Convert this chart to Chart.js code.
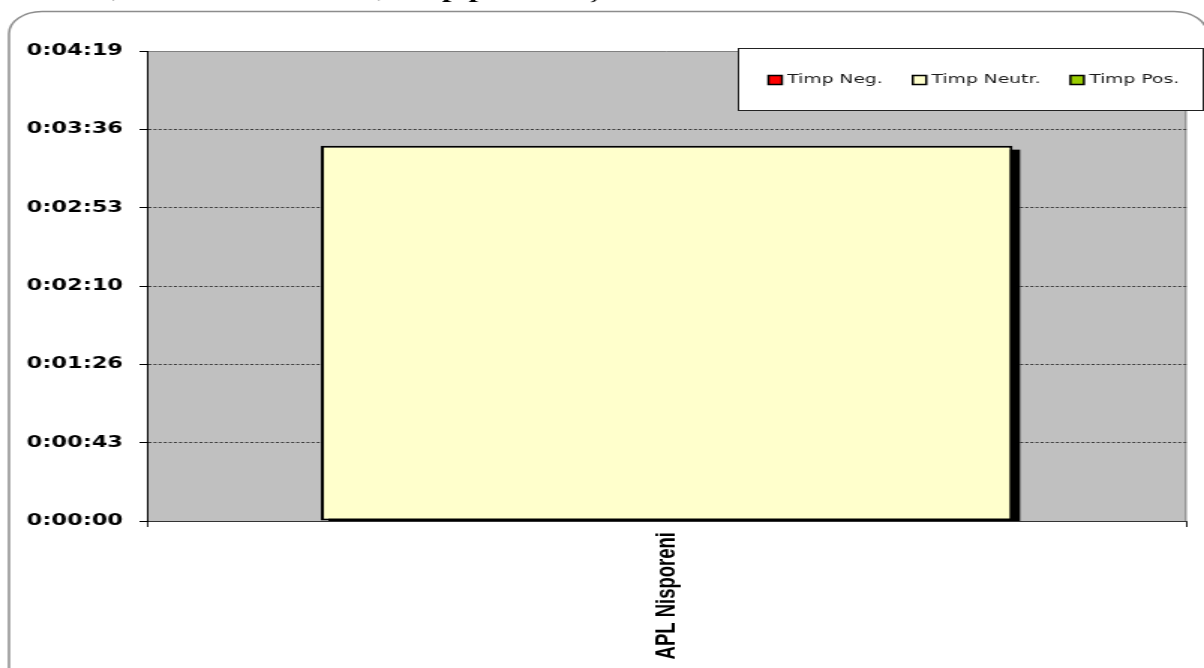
<!DOCTYPE html>
<html>
<head>
<meta charset="utf-8">
<script src="https://cdn.jsdelivr.net/npm/chart.js@4.4.1/dist/chart.umd.min.js"></script>
<style>
  html, body { margin: 0; padding: 0; background: #ffffff; overflow: hidden; width: 1204px; height: 668px; }
  #wrap { position: absolute; left: 0; top: 0; width: 803px; height: 668px; transform: scaleX(1.49938); transform-origin: 0 0; }
</style>
</head>
<body>
<div id="wrap"><canvas id="c"></canvas></div>
<script>
// ---- data ----
const titleText = 'Contul, afirmat în subiect, timp pe toate știrile';
const categories = ['APL Nisporeni'];
const seriesLabels = ['Timp Neg.', 'Timp Neutr.', 'Timp Pos.'];
const timpNeg = [0];
const timpNeutr = [207];   // seconds (≈ 0:03:27)
const timpPos = [0];
const seriesColors = ['#FF0000', '#FFFFCC', '#99CC00'];
const yTickLabels = ['0:00:00', '0:00:43', '0:01:26', '0:02:10', '0:02:53', '0:03:36', '0:04:19'];
const yMax = 259.2;
const yStep = 43.2;

// ---- plugins ----
const framePlugin = {
  id: 'frame',
  beforeDraw(chart) {
    const ctx = chart.ctx, a = chart.chartArea;
    ctx.save();
    // outer rounded frame
    ctx.strokeStyle = '#8c8c8c';
    ctx.lineWidth = 1.5;
    ctx.beginPath();
    ctx.roundRect(6, 11.5, 799, 720, 22);
    ctx.stroke();
    // clipped title above the frame
    ctx.fillStyle = '#000';
    ctx.font = 'bold 22px "Liberation Serif", "Times New Roman", serif';
    ctx.textBaseline = 'alphabetic';
    ctx.textAlign = 'left';
    ctx.fillText(titleText, 10, -3);
    // plot area background
    ctx.fillStyle = '#C0C0C0';
    ctx.fillRect(a.left, a.top, a.right - a.left, a.bottom - a.top);
    // top and right border of plot area
    ctx.strokeStyle = '#808080';
    ctx.lineWidth = 1;
    ctx.beginPath();
    ctx.moveTo(a.left, a.top + 0.5);
    ctx.lineTo(a.right - 0.5, a.top + 0.5);
    ctx.lineTo(a.right - 0.5, a.bottom);
    ctx.stroke();
    ctx.restore();
  }
};

const shadowPlugin = {
  id: 'barShadow',
  beforeDatasetsDraw(chart) {
    const ctx = chart.ctx, a = chart.chartArea;
    const meta = chart.getDatasetMeta(1);
    ctx.save();
    ctx.beginPath();
    ctx.rect(a.left, a.top, a.right - a.left, a.bottom - a.top);
    ctx.clip();
    ctx.fillStyle = '#000';
    meta.data.forEach(el => {
      const p = el.getProps(['x', 'y', 'base', 'width'], true);
      const top = Math.min(p.y, p.base), bottom = Math.max(p.y, p.base);
      ctx.fillRect(p.x - p.width / 2 + 5, top + 4, p.width, bottom - top);
    });
    ctx.restore();
  }
};

const legendPlugin = {
  id: 'boxLegend',
  afterDraw(chart) {
    const ctx = chart.ctx;
    ctx.save();
    const bx = 492.5, by = 48.5, bw = 310, bh = 62;
    ctx.fillStyle = '#fff';
    ctx.fillRect(bx, by, bw, bh);
    ctx.strokeStyle = '#222';
    ctx.lineWidth = 1;
    ctx.strokeRect(bx, by, bw, bh);
    ctx.font = '12.5px "DejaVu Sans", Verdana, sans-serif';
    ctx.textBaseline = 'middle';
    ctx.textAlign = 'left';
    let x = 512.5;
    const cy = 80;
    chart.data.datasets.forEach(ds => {
      ctx.fillStyle = ds.backgroundColor;
      ctx.fillRect(x, cy - 4.5, 9, 9);
      ctx.strokeStyle = '#000';
      ctx.lineWidth = 1.5;
      ctx.strokeRect(x, cy - 4.5, 9, 9);
      ctx.fillStyle = '#1a1a1a';
      ctx.fillText(ds.label, x + 12.5, cy);
      x += 12.5 + ctx.measureText(ds.label).width + 20;
    });
    ctx.restore();
  }
};

// ---- chart ----
const seriesData = [timpNeg, timpNeutr, timpPos];
new Chart(document.getElementById('c'), {
  type: 'bar',
  data: {
    labels: categories,
    datasets: seriesLabels.map((lab, i) => ({
      label: lab,
      data: seriesData[i],
      backgroundColor: seriesColors[i],
      borderColor: '#000',
      borderWidth: 2,
      borderSkipped: false,
      categoryPercentage: 1,
      barPercentage: 0.6654
    }))
  },
  options: {
    responsive: true,
    maintainAspectRatio: false,
    animation: false,
    devicePixelRatio: 1,
    layout: { padding: { top: 51, right: 11.7, bottom: 0, left: 0 } },
    plugins: { legend: { display: false }, tooltip: { enabled: false }, title: { display: false } },
    scales: {
      x: {
        stacked: true,
        afterFit: s => { s.height = 147; },
        grid: { display: true, drawOnChartArea: false, offset: true, tickLength: 6, color: '#222', lineWidth: 1 },
        border: { display: true, color: '#333', width: 1 },
        ticks: {
          autoSkip: false, minRotation: 90, maxRotation: 90, padding: 5,
          color: '#000',
          font: { family: '"Liberation Sans", Arial, sans-serif', weight: 'bold', size: 18.5 }
        }
      },
      y: {
        stacked: true,
        min: 0,
        max: yMax,
        afterFit: s => { s.width = 98; },
        grid: {
          color: c => (c.index === 0 || c.index === yTickLabels.length - 1) ? 'rgba(0,0,0,0)' : '#3a3a3a',
          lineWidth: 1, tickLength: 5, tickColor: '#000', drawTicks: true
        },
        border: { display: true, color: '#000', width: 1, dash: [2, 1.4] },
        ticks: {
          stepSize: yStep, autoSkip: false, padding: 11, color: '#000',
          font: { family: '"DejaVu Sans", Verdana, sans-serif', weight: 'bold', size: 15 },
          callback: (v, i) => yTickLabels[i]
        }
      }
    }
  },
  plugins: [framePlugin, shadowPlugin, legendPlugin]
});
</script>
</body>
</html>
